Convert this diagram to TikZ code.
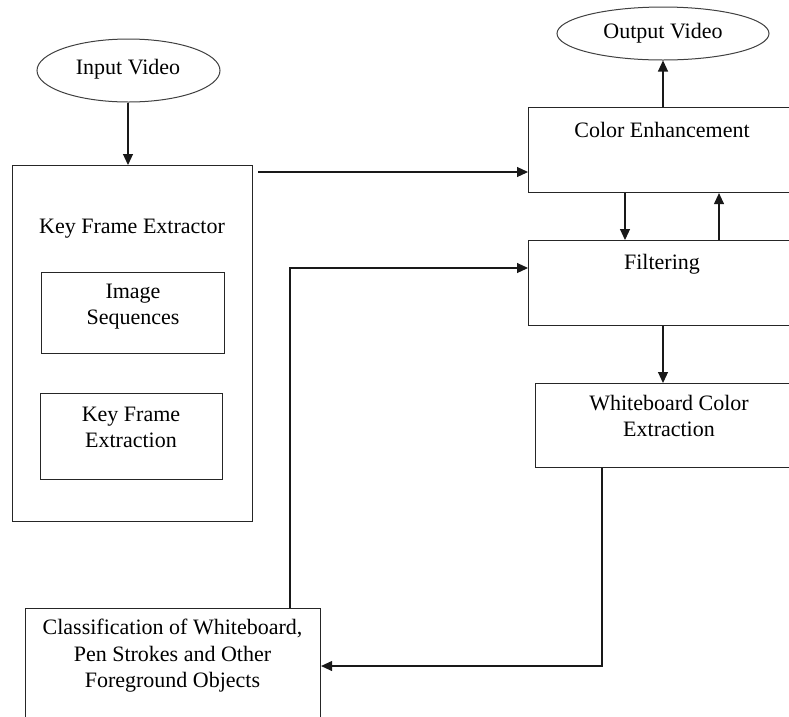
\documentclass[tikz,border=0pt]{standalone}
\usepackage{fontspec}
\setmainfont{Liberation Serif}
\usetikzlibrary{shapes.geometric,arrows.meta}
\tikzset{
  box/.style={draw=black!85, line width=1.1pt, rectangle, inner sep=0pt, anchor=north west},
  oval/.style={draw=black!75, line width=1pt, ellipse, inner sep=0pt},
  txt/.style={inner sep=0pt, align=center, font=\fontsize{22}{26.5}\selectfont},
  arr/.style={line width=1.1pt, draw=black!90, -{Triangle[length=11pt,width=10pt]}},
  ln/.style={line width=1.1pt, draw=black!90}
}
\begin{document}
\begin{tikzpicture}[x=1pt,y=-1pt]
\clip (0,0) rectangle (789,716);
\fill[white] (0,0) rectangle (789,716);
% ellipses
\node[oval, minimum width=183pt, minimum height=63pt] (iv) at (128.5,70.5) {};
\node[txt] (ivt) at (128,69) {Input Video};
\node[oval, minimum width=212pt, minimum height=53pt] (ov) at (663,33.5) {};
\node[txt] (ovt) at (663,33) {Output Video};
% left boxes
\node[box, minimum width=240pt, minimum height=356pt] (kfe) at (12,165) {};
\node[txt] (kfet) at (132,229) {Key Frame Extractor};
\node[box, minimum width=183pt, minimum height=81pt] (is) at (41,272) {};
\node[txt] (ist) at (133,306.5) {Image\\Sequences};
\node[box, minimum width=182pt, minimum height=86pt] (kfx) at (40,393) {};
\node[txt] (kfxt) at (131,427.5) {Key Frame\\Extraction};
% right boxes
\node[box, minimum width=268pt, minimum height=85pt] (ce) at (528,107) {};
\node[txt] (cet) at (662,130) {Color Enhancement};
\node[box, minimum width=268pt, minimum height=85pt] (filt) at (528,240) {};
\node[txt] (filtt) at (662,264) {Filtering};
\node[box, minimum width=268pt, minimum height=84pt] (wb) at (535,383) {};
\node[txt] (wbt) at (669,416) {Whiteboard Color\\Extraction};
% bottom box
\node[box, minimum width=295pt, minimum height=140pt] (cls) at (25,608) {};
\node[txt] (clst) at (172.5,656) {Classification of Whiteboard,\\Pen Strokes and Other\\Foreground Objects};
% helper coordinates
\coordinate (a1) at (258,172);
\coordinate (d1) at (625,0);
\coordinate (u1) at (719,0);
\coordinate (c1) at (602,666);
\coordinate (c2) at (290,268);
% connectors
\draw[arr] (iv.south -| 128,0) -- (kfe.north -| 128,0);
\draw[arr] (a1) -- (a1 -| ce.west);
\draw[arr] (ov.south |- ce.north) -- (ov.south);
\draw[arr] (d1 |- ce.south) -- (d1 |- filt.north);
\draw[arr] (u1 |- filt.north) -- (u1 |- ce.south);
\draw[arr] (filt.south -| 663,0) -- (wb.north -| 663,0);
\draw[arr] (c1 |- wb.south) -- (c1) -- (c1 -| cls.east);
\draw[arr] (c2 |- cls.north) -- (c2) -- (c2 -| filt.west);
\end{tikzpicture}
\end{document}
